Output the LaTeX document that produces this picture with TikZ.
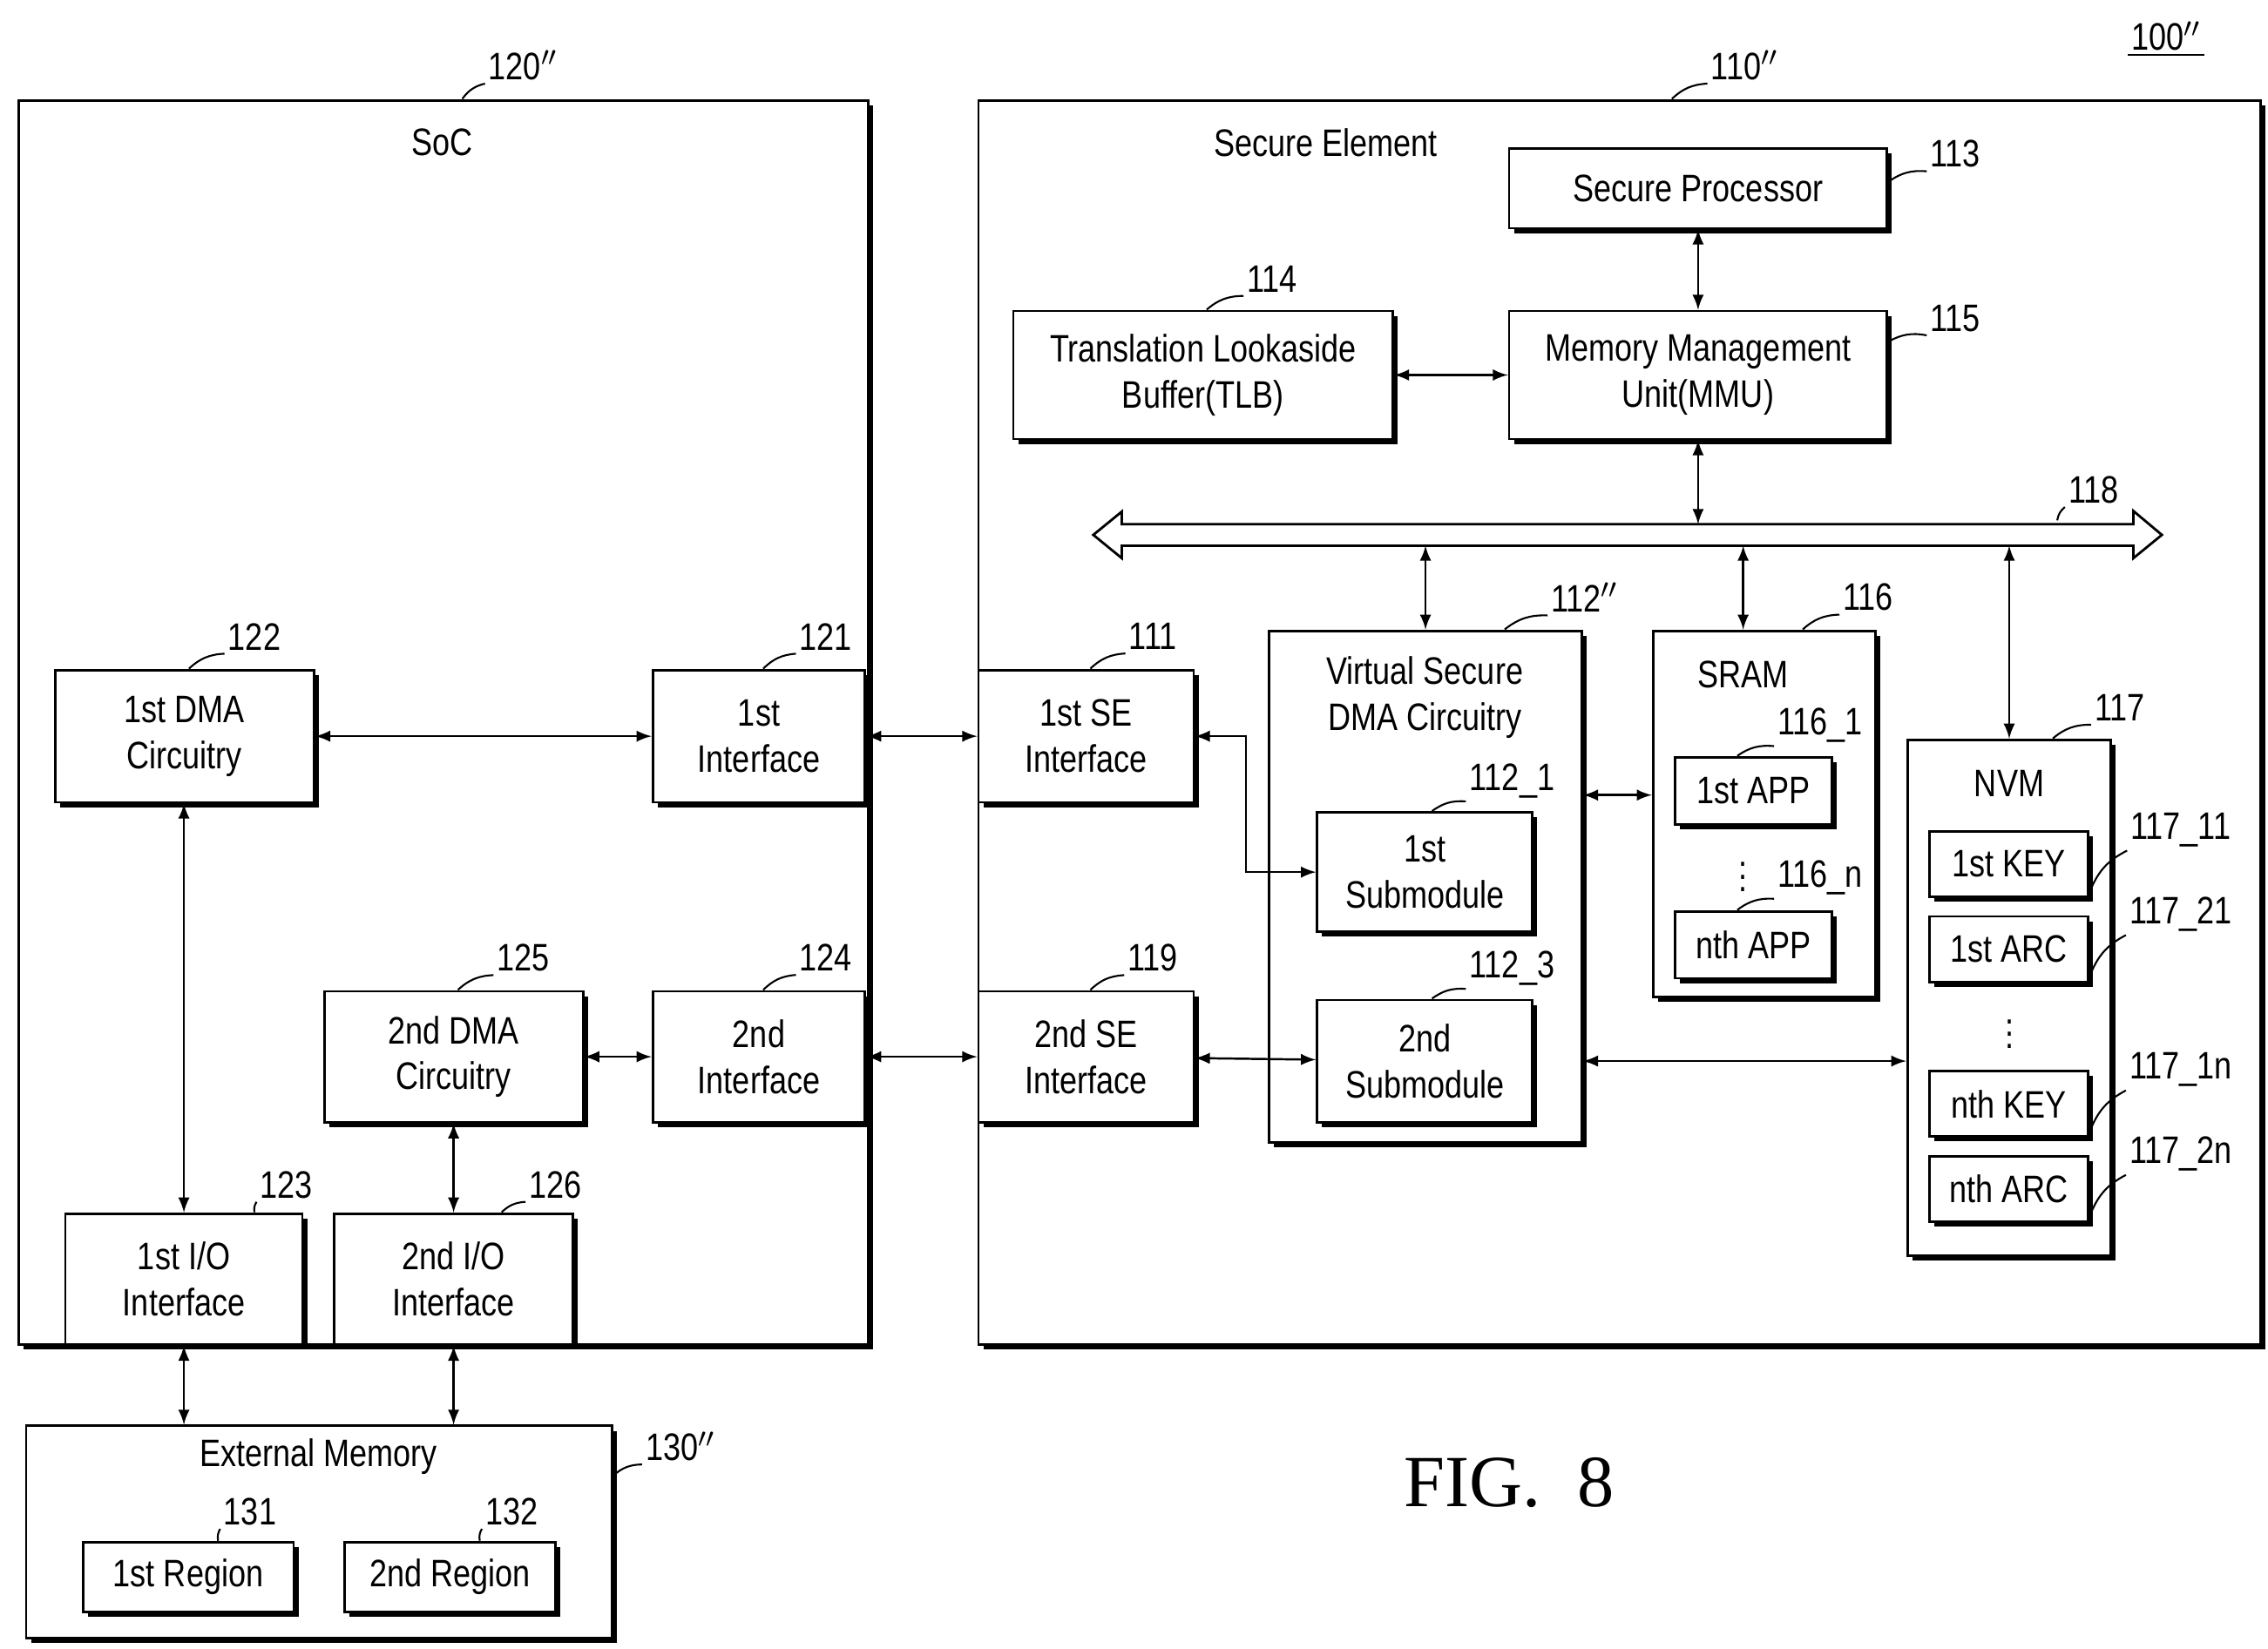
\documentclass[tikz,border=0pt]{standalone}
\usepackage{fontspec}
\setmainfont{Liberation Sans}[FakeStretch=0.82]
\newfontfamily\figfont{Liberation Serif}
\usetikzlibrary{shadows}
\tikzset{ %
  ,>=latex
  ,every node/.style={font=\fontsize{12.5}{15}\selectfont, align=center}
  ,sz/.style 2 args={minimum width=#1*0.01668cm, minimum height=#2*0.01668cm}
  ,blk/.style={draw, fill=white, line width=0.8pt, inner sep=0,
     drop shadow={shadow xshift=1.6pt, shadow yshift=-1.6pt, fill=black, opacity=1}}
  ,num/.style={inner sep=1pt}
  ,lead/.style={line width=0.6pt}
  ,link/.style={<->, line width=0.7pt}
}
\newcommand\callout[4]{\node[num] (#1) at (#2) {#3};
  \draw[lead] (#1.south west) to[bend right=20] (#4);}

\begin{document}
\begin{tikzpicture}[x=0.01668cm, y=-0.01668cm]
  \useasboundingbox (0,0) rectangle (1560,1134);
  % containers
  \node[blk, sz={584}{856}] (SoC) at (305,497) {};
  \node (SoCl) at (304,98) {SoC};
  \node[blk, sz={882}{856}] (SE) at (1114,497) {};
  \node (SEl) at (912,98) {Secure Element};
  \node[num] (fig) at (1490,25) {100$''$};
  \draw[lead] (fig.south west) -- (fig.south east);
  \callout{n120}{360,45}{120$''$}{318,68}
  \callout{n110}{1200,45}{110$''$}{1150,68}
  % secure element
  \node[blk, sz={260}{55}] (SP) at (1168,129.5) {Secure Processor};
  \node[blk, sz={261}{88}] (TLB) at (827.5,258) {Translation Lookaside\\Buffer(TLB)};
  \node[blk, sz={260}{88}] (MMU) at (1168,258) {Memory Management\\Unit(MMU)};
  \callout{n113}{1345,106}{113}{1299,125}
  \callout{n114}{875,192}{114}{830,213}
  \callout{n115}{1345,219}{115}{1299,235}
  % bus
  \node[sz={695}{14}, inner sep=0] (bus) at (1119.5,368) {};
  \draw[line width=0.8pt, fill=white] (bus.north west) -- (bus.north east) -- ++(0,-9) -- (1487,368)
    -- (bus.south east |- 0,384) -- (bus.south east) -- (bus.south west) -- (bus.south west |- 0,384)
    -- (752,368) -- (bus.north west |- 0,352) -- cycle;
  \callout{n118}{1440,337}{118}{1415,358}
  \node[blk, sz={215}{352}] (VSD) at (980.5,610) {};
  \node (VSDl) at (980,480) {Virtual Secure\\DMA Circuitry};
  \node[blk, sz={148}{82}] (Sub1) at (980,600) {1st\\Submodule};
  \node[blk, sz={148}{84}] (Sub2) at (980,730) {2nd\\Submodule};
  \callout{n112}{1090,411}{112$''$}{1035,433}
  \callout{n1121}{1040,537}{112\_1}{985,558}
  \callout{n1123}{1040,666}{112\_3}{985,687}
  \node[blk, sz={153}{252}] (SRAM) at (1213.5,560) {};
  \node (SRAMl) at (1199,464) {SRAM};
  \node[blk, sz={108}{46}] (APP1) at (1206,544) {1st APP};
  \node[blk, sz={108}{46}] (APPn) at (1206,650) {nth APP};
  \node (dots1) at (1199,597) {$\vdots$};
  \callout{n116}{1285,411}{116}{1240,433}
  \callout{n1161}{1252,499}{116\_1}{1195,520}
  \callout{n116n}{1252,604}{116\_n}{1195,626}
  \node[blk, sz={140}{355}] (NVM) at (1382,686.5) {};
  \node (NVMl) at (1382,539) {NVM};
  \node[blk, sz={109}{45}] (KEY1) at (1381.5,594.5) {1st KEY};
  \node[blk, sz={109}{45}] (ARC1) at (1381.5,653) {1st ARC};
  \node (dots2) at (1382,705) {$\vdots$};
  \node[blk, sz={109}{45}] (KEYn) at (1381.5,759.5) {nth KEY};
  \node[blk, sz={109}{45}] (ARCn) at (1381.5,818) {nth ARC};
  \callout{n117}{1458,487}{117}{1412,508}
  \callout{n11711}{1500,571}{117\_11}{1438,612}
  \callout{n11721}{1500,629}{117\_21}{1438,670}
  \callout{n1171n}{1500,736}{117\_1n}{1438,777}
  \callout{n1172n}{1500,794}{117\_2n}{1438,835}
  \node[blk, sz={148}{91}] (SE1) at (747,506.5) {1st SE\\Interface};
  \node[blk, sz={148}{90}] (SE2) at (747,727) {2nd SE\\Interface};
  \callout{n111}{793,438}{111}{750,460}
  \callout{n119}{793,659}{119}{750,681}
  % soc
  \node[blk, sz={146}{91}] (IF1) at (522,506.5) {1st\\Interface};
  \node[blk, sz={146}{90}] (IF2) at (522,727) {2nd\\Interface};
  \node[blk, sz={178}{91}] (DMA1) at (127,506.5) {1st DMA\\Circuitry};
  \node[blk, sz={178}{90}] (DMA2) at (312,727) {2nd DMA\\Circuitry};
  \node[blk, sz={163}{90}] (IO1) at (126.5,880) {1st I/O\\Interface};
  \node[blk, sz={164}{90}] (IO2) at (312,880) {2nd I/O\\Interface};
  \callout{n121}{568,438}{121}{525,460}
  \callout{n124}{568,659}{124}{525,681}
  \callout{n122}{175,438}{122}{130,460}
  \callout{n125}{360,659}{125}{315,681}
  \callout{n123}{197,815}{123}{175,834}
  \callout{n126}{382,815}{126}{345,834}
  % external memory
  \node[blk, sz={403}{146}] (EXT) at (219.5,1054) {};
  \node (EXTl) at (219,1002) {External Memory};
  \node[blk, sz={145}{48}] (R1) at (129.5,1085) {1st Region};
  \node[blk, sz={145}{48}] (R2) at (309.5,1085) {2nd Region};
  \callout{n130}{468,995}{130$''$}{422,1015}
  \callout{n131}{172,1040}{131}{150,1060}
  \callout{n132}{352,1040}{132}{330,1060}
  \node[font=\figfont\fontsize{24}{28}\selectfont] (figl) at (1038,1020) {FIG.\ \ 8};
  % connectors
  \draw[link] (SP) -- (MMU);
  \draw[link] (TLB) -- (MMU);
  \draw[link] (MMU) -- (MMU.south |- bus.north);
  \draw[link] (VSD.north) -- (VSD.north |- bus.south);
  \draw[link] (SRAM.north -| SRAMl) -- (SRAMl |- bus.south);
  \draw[link] (NVM.north) -- (NVM.north |- bus.south);
  \draw[link] (DMA1) -- (IF1);
  \draw[link] (IF1) -- (SE1);
  \draw[link] (SE1.east) -| (857,600) -- (Sub1.west);
  \draw[link] (DMA2) -- (IF2);
  \draw[link] (IF2) -- (SE2);
  \draw[link] (SE2) -- (Sub2);
  \draw[link] (VSD.east |- 0,547) -- (SRAM.west |- 0,547);
  \draw[link] (VSD.east |- Sub2) -- (NVM.west |- Sub2);
  \draw[link] (DMA1.south -| IO1) -- (IO1);
  \draw[link] (DMA2) -- (IO2);
  \draw[link] (IO1) -- (EXT.north -| IO1);
  \draw[link] (IO2) -- (EXT.north -| IO2);
\end{tikzpicture}
\end{document}
